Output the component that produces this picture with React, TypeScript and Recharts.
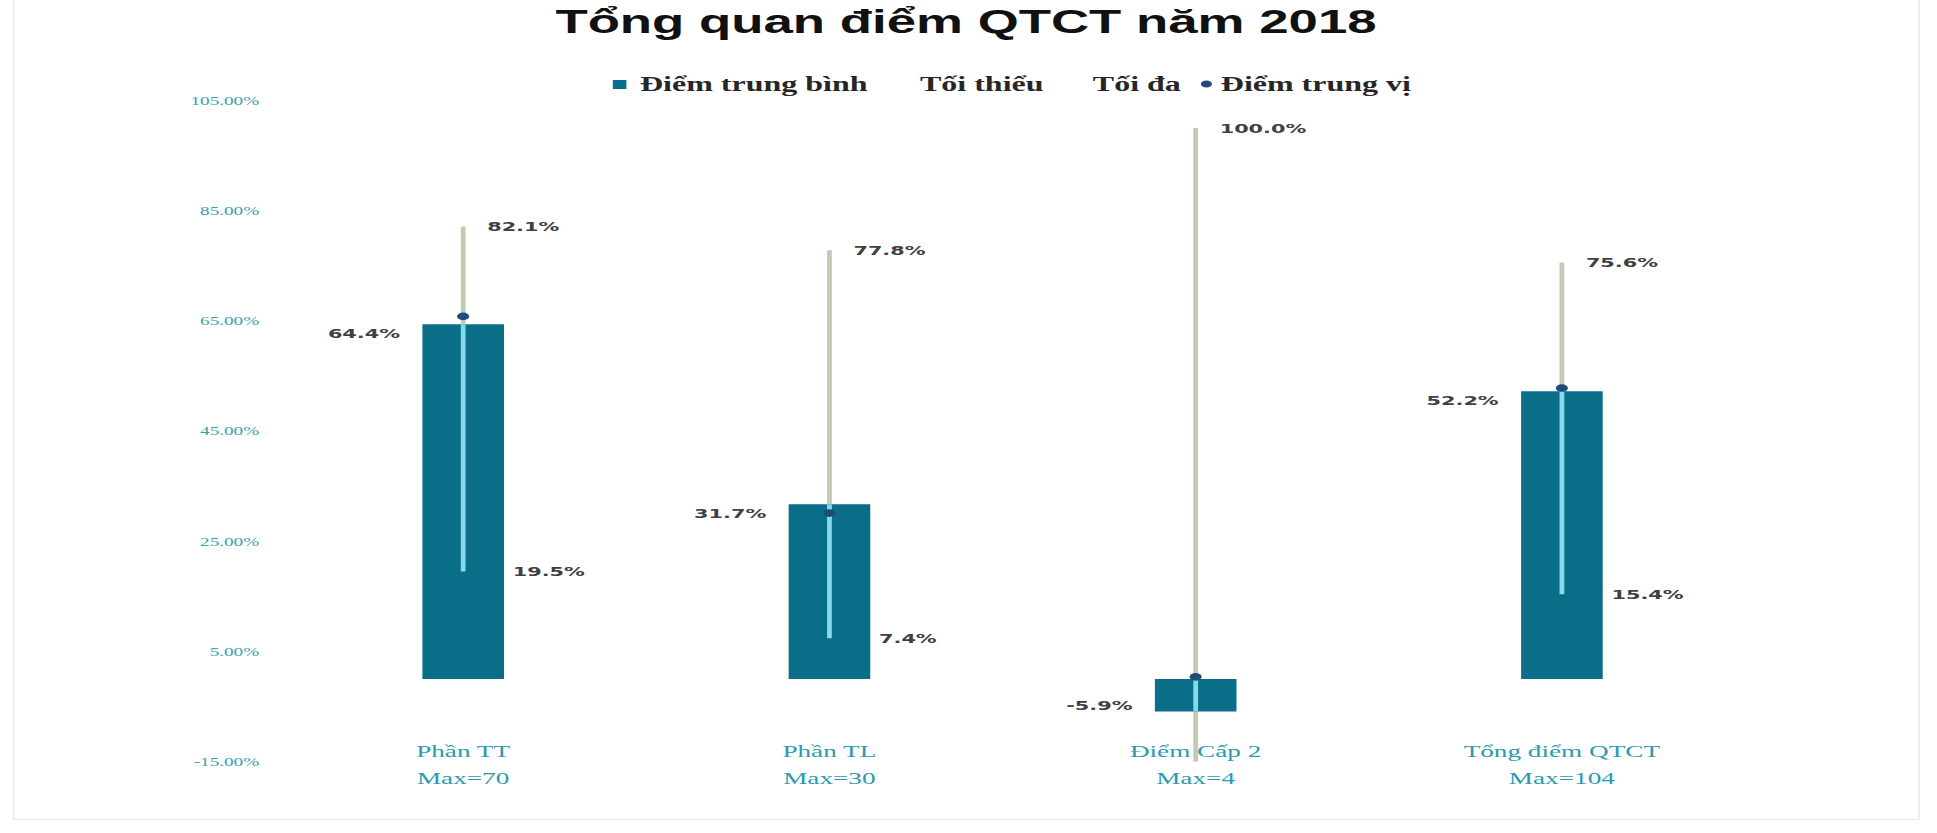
import { Bar, ComposedChart, LabelList, Line, XAxis, YAxis } from 'recharts'

// the source picture is stretched sideways, so we draw narrow and scale x
const S = 1.6
const W = 1937 / S
const H = 833

const categories = ['Phần TT', 'Phần TL', 'Điểm Cấp 2', 'Tổng điểm QTCT']
const maxPoints = [70, 30, 4, 104]
const avgScore = [64.4, 31.7, -5.9, 52.2]
const minScore = [19.5, 7.4, -25, 15.4]
const maxScore = [82.1, 77.8, 100.0, 75.6]
const medianScore = [65.8, 30.1, 0.4, 52.8]
const yTicks = [-15, 5, 25, 45, 65, 85, 105]
const seriesNames = ['Điểm trung bình', 'Tối thiểu', 'Tối đa', 'Điểm trung vị']

const TEAL = '#0a6e88'
const AXIS_TEAL = '#3aa1b5'
const RANGE = '#c2ccb4'
const INNER = '#86d8ea'
const MEDIAN = '#1f4a7a'

const data = categories.map((name, i) => {
  const lo = Math.max(minScore[i], Math.min(0, avgScore[i]))
  const hi = Math.min(maxScore[i], Math.max(0, avgScore[i]))
  return {
    name,
    avg: avgScore[i],
    min: minScore[i],
    max: maxScore[i],
    median: medianScore[i],
    range: [minScore[i], maxScore[i]],
    inner: [lo, hi],
  }
})

const labelFont = {
  fontFamily: '"DejaVu Sans", Verdana, sans-serif',
  fontSize: 13,
  fontWeight: 700,
  fill: '#404040',
}

const fmt = (v: number) => `${Number(v).toFixed(1)}%`

function box(p: any) {
  const v = p.viewBox ?? p
  return { x: Number(v.x), y: Number(v.y), w: Number(v.width), h: Number(v.height) }
}

function MaxLabel(p: any) {
  const { x, y, w } = box(p)
  return (
    <text x={x + w / 2 + 15} y={y} dy="0.35em" {...labelFont}>
      {fmt(p.value)}
    </text>
  )
}

function MinLabel(p: any) {
  if (p.value < yTicks[0]) return null
  const { x, y, w, h } = box(p)
  return (
    <text x={x + w / 2 + 31} y={y + h} dy="0.35em" {...labelFont}>
      {fmt(p.value)}
    </text>
  )
}

function AvgLabel(p: any) {
  const { x, y, h } = box(p)
  const top = Math.min(y, y + h)
  const bottom = Math.max(y, y + h)
  const ly = p.value >= 0 ? top + 9 : bottom - 6
  return (
    <text x={x - 14} y={ly} dy="0.35em" textAnchor="end" {...labelFont}>
      {fmt(p.value)}
    </text>
  )
}

function lineShape(color: string) {
  return (p: any) => {
    const cx = p.x + p.width / 2
    return (
      <line x1={cx} x2={cx} y1={p.y} y2={p.y + p.height} stroke={color} strokeWidth={3} />
    )
  }
}

function CategoryTick({ x, y, payload }: any) {
  const i = categories.indexOf(payload.value)
  return (
    <text
      x={x}
      y={y}
      textAnchor="middle"
      fill="#2b9ab0"
      fontFamily='"Liberation Serif", "Times New Roman", serif'
      fontSize={17}
    >
      <tspan x={x} dy={-5}>{payload.value}</tspan>
      <tspan x={x} dy={27}>Max={maxPoints[i]}</tspan>
    </text>
  )
}

const legendX = [400, 575, 683, 763]

export default function App() {
  return (
    <div
      style={{
        position: 'absolute',
        left: 0,
        top: 0,
        width: W,
        height: H,
        background: '#fff',
        transform: `scaleX(${S})`,
        transformOrigin: '0 0',
      }}
    >
      <div
        style={{
          position: 'absolute',
          left: 8,
          top: -1,
          width: 1192,
          height: 821,
          border: '1px solid #e9e9e9',
          boxSizing: 'border-box',
        }}
      />
      <ComposedChart
        width={W}
        height={H}
        data={data}
        margin={{ top: 100.4, right: W - 1090.6, bottom: 11.3, left: 0 }}
      >
        <XAxis
          xAxisId="m"
          dataKey="name"
          axisLine={false}
          tickLine={false}
          tickSize={0}
          tickMargin={0}
          height={60}
          interval={0}
          tick={<CategoryTick />}
        />
        <XAxis xAxisId="r" dataKey="name" hide />
        <XAxis xAxisId="o" dataKey="name" hide />
        <YAxis
          domain={[-15, 105]}
          ticks={yTicks}
          allowDataOverflow
          interval={0}
          axisLine={false}
          tickLine={false}
          tickSize={0}
          tickMargin={13}
          width={175}
          tickFormatter={(v: number) => `${v.toFixed(2)}%`}
          tick={{ fill: AXIS_TEAL, fontSize: 12, fontFamily: '"Liberation Serif", serif' }}
        />
        <Bar
          xAxisId="r"
          dataKey="range"
          barSize={51}
          shape={lineShape(RANGE)}
          isAnimationActive={false}
        >
          <LabelList dataKey="max" content={<MaxLabel />} />
          <LabelList dataKey="min" content={<MinLabel />} />
        </Bar>
        <Bar xAxisId="m" dataKey="avg" barSize={51} fill={TEAL} isAnimationActive={false}>
          <LabelList dataKey="avg" content={<AvgLabel />} />
        </Bar>
        <Bar
          xAxisId="o"
          dataKey="inner"
          barSize={51}
          shape={lineShape(INNER)}
          isAnimationActive={false}
        />
        <Line
          xAxisId="m"
          dataKey="median"
          stroke="none"
          dot={{ r: 3.8, fill: MEDIAN, stroke: 'none' }}
          activeDot={false}
          isAnimationActive={false}
        />
      </ComposedChart>
      <svg
        width={W}
        height={H}
        style={{ position: 'absolute', left: 0, top: 0, pointerEvents: 'none' }}
      >
        <text
          x={603.75}
          y={33}
          textAnchor="middle"
          fontFamily='"Liberation Sans", Arial, sans-serif'
          fontWeight={700}
          fontSize={33}
          fill="#111"
        >
          Tổng quan điểm QTCT năm 2018
        </text>
        <rect x={383} y={80} width={8.5} height={9} fill={TEAL} />
        <circle cx={754} cy={84} r={3.5} fill={MEDIAN} />
        {seriesNames.map((s, i) => (
          <text
            key={s}
            x={legendX[i]}
            y={91}
            fontFamily='"Liberation Serif", "Times New Roman", serif'
            fontWeight={700}
            fontSize={20}
            fill="#262626"
          >
            {s}
          </text>
        ))}
      </svg>
    </div>
  )
}
